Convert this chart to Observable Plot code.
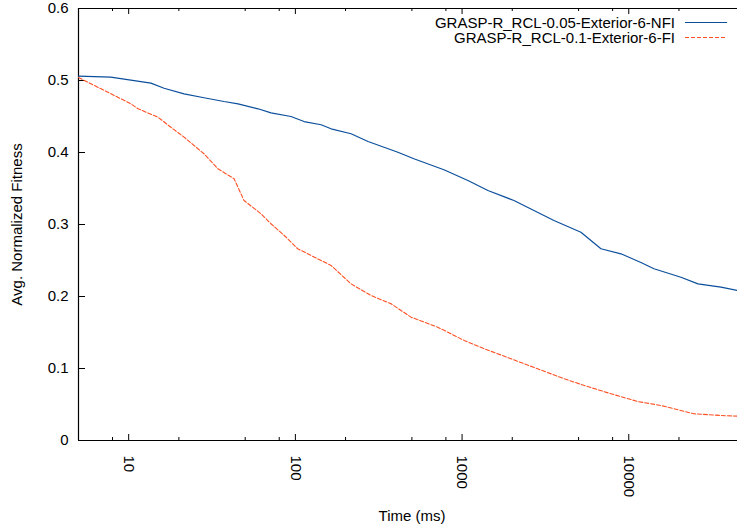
<!DOCTYPE html>
<html>
<head>
<meta charset="utf-8">
<script src="https://cdn.jsdelivr.net/npm/d3@7"></script>
<script src="https://cdn.jsdelivr.net/npm/@observablehq/plot@0.6"></script>
<style>
  html, body { margin: 0; padding: 0; background: #fff; overflow: hidden; }
  #chart { width: 737px; height: 529px; }
</style>
</head>
<body>
<div id="chart"></div>
<script>
const seriesNames = ["GRASP-R_RCL-0.05-Exterior-6-NFI", "GRASP-R_RCL-0.1-Exterior-6-FI"];
const seriesColors = ["#0b4f9c", "#ff5024"];
const seriesDash = [null, "4,2"];

const nfiTime = [5, 7.8, 13.6, 16.3, 21.5, 28.3, 37.3, 45.3, 59.7, 71.4, 94.1, 112.7, 142.6, 163.7, 215.8, 272.9, 412, 514, 778, 1084, 1429, 2047, 2698, 3557, 5164, 6808, 8974, 11830, 14160, 20560, 26000, 35730, 44900];
const nfiFit = [0.506, 0.5046, 0.4963, 0.4893, 0.4815, 0.476, 0.4708, 0.4676, 0.4607, 0.4551, 0.45, 0.443, 0.4385, 0.4329, 0.426, 0.4153, 0.4004, 0.3913, 0.376, 0.3611, 0.3472, 0.3333, 0.3194, 0.3056, 0.2893, 0.2663, 0.2593, 0.2472, 0.2385, 0.2268, 0.2176, 0.2129, 0.2083];

const fiTime = [5, 5.94, 7.83, 10.3, 11.4, 15.0, 17.9, 21.5, 28.3, 34.3, 42.9, 49.2, 62.2, 71.4, 85.8, 103.3, 142.6, 163.7, 215.8, 284.4, 375, 494, 714, 1031, 1359, 1965, 2838, 4102, 5408, 7816, 11300, 15600, 20560, 24600, 35730, 44900];
const fiFit = [0.5042, 0.4954, 0.4815, 0.4676, 0.4607, 0.449, 0.4351, 0.4213, 0.3982, 0.3774, 0.3635, 0.3333, 0.3149, 0.301, 0.2847, 0.2663, 0.25, 0.2431, 0.2176, 0.2014, 0.1899, 0.1713, 0.1574, 0.1389, 0.1274, 0.1135, 0.0996, 0.0857, 0.0764, 0.0649, 0.0542, 0.0486, 0.0417, 0.0371, 0.0347, 0.0338];

const xDomain = [5, 44900];
const yDomain = [0, 0.6];
const yTicks = [0, 0.1, 0.2, 0.3, 0.4, 0.5, 0.6];
const yTickLabels = ["0", "0.1", "0.2", "0.3", "0.4", "0.5", "0.6"];
const xMajorTicks = [10, 100, 1000, 10000];
const xMajorLabels = ["10", "100", "1000", "10000"];
const xMinorTicks = [8, 20, 50, 80, 200, 500, 800, 2000, 5000, 8000, 20000];
const xLabel = "Time (ms)";
const yLabel = "Avg. Normalized Fitness";

const W = 737, H = 529;
const mL = 78, mR = 0, mT = 8, mB = 89;
const plotW = W - mL - mR, plotH = H - mT - mB;
const majorLen = 6, minorLen = 3, yTickLen = 7;
const font = "'Liberation Sans', Arial, Helvetica, sans-serif";

const nfi = nfiTime.map((t, i) => ({t, v: nfiFit[i]}));
const fi = fiTime.map((t, i) => ({t, v: fiFit[i]}));

const chart = Plot.plot({
  width: W, height: H,
  marginLeft: mL, marginRight: mR, marginTop: mT, marginBottom: mB,
  x: {type: "log", domain: xDomain, axis: null},
  y: {domain: yDomain, axis: null},
  style: {fontFamily: font, fontSize: "15px", background: "white", color: "#000", overflow: "visible"},
  marks: [
    // frame lines (left, top, bottom)
    Plot.ruleX([xDomain[0]], {stroke: "#000", strokeWidth: 1.2}),
    Plot.ruleY([yDomain[0], yDomain[1]], {stroke: "#000", strokeWidth: 1.2}),
    // y ticks (inward)
    Plot.tickY(yTicks, {y: d => d, stroke: "#000", insetRight: plotW - yTickLen}),
    // x ticks bottom and top (inward)
    Plot.tickX(xMajorTicks, {x: d => d, stroke: "#000", insetTop: plotH - majorLen}),
    Plot.tickX(xMinorTicks, {x: d => d, stroke: "#000", insetTop: plotH - minorLen}),
    Plot.tickX(xMajorTicks, {x: d => d, stroke: "#000", insetBottom: plotH - majorLen}),
    Plot.tickX(xMinorTicks, {x: d => d, stroke: "#000", insetBottom: plotH - minorLen}),
    // y tick labels
    Plot.text(yTicks, {y: d => d, text: (d, i) => yTickLabels[i], frameAnchor: "left", dx: -10, textAnchor: "end", lineAnchor: "middle", fill: "#000"}),
    // x tick labels (rotated)
    Plot.text(xMajorTicks, {x: d => d, text: (d, i) => xMajorLabels[i], frameAnchor: "bottom", dy: 15, rotate: 90, textAnchor: "start", lineAnchor: "middle", fill: "#000"}),
    // axis titles
    Plot.text([yLabel], {text: d => d, frameAnchor: "left", dx: -61, rotate: -90, textAnchor: "middle", lineAnchor: "middle", fill: "#000"}),
    Plot.text([xLabel], {text: d => d, frameAnchor: "bottom", dx: 4, dy: 76, textAnchor: "middle", lineAnchor: "middle", fill: "#000"}),
    // data lines
    Plot.line(nfi, {x: "t", y: "v", stroke: seriesColors[0], strokeWidth: 1.2}),
    Plot.line(fi, {x: "t", y: "v", stroke: seriesColors[1], strokeWidth: 1.1, strokeDasharray: seriesDash[1]})
  ]
});

document.getElementById("chart").appendChild(chart);

// legend (inside the top-right of the plot area)
const svg = d3.select(chart);
const lg = svg.append("g").attr("font-family", font).attr("font-size", 15);
seriesNames.forEach((name, i) => {
  const cy = 22.5 + i * 15;
  lg.append("text")
    .attr("x", 675).attr("y", cy).attr("dy", "0.35em")
    .attr("text-anchor", "end").attr("fill", "#000")
    .text(name);
  const ln = lg.append("line")
    .attr("x1", 685).attr("x2", 727).attr("y1", cy).attr("y2", cy)
    .attr("stroke", seriesColors[i]).attr("stroke-width", 1.2);
  if (seriesDash[i]) ln.attr("stroke-dasharray", seriesDash[i]);
});
</script>
</body>
</html>
